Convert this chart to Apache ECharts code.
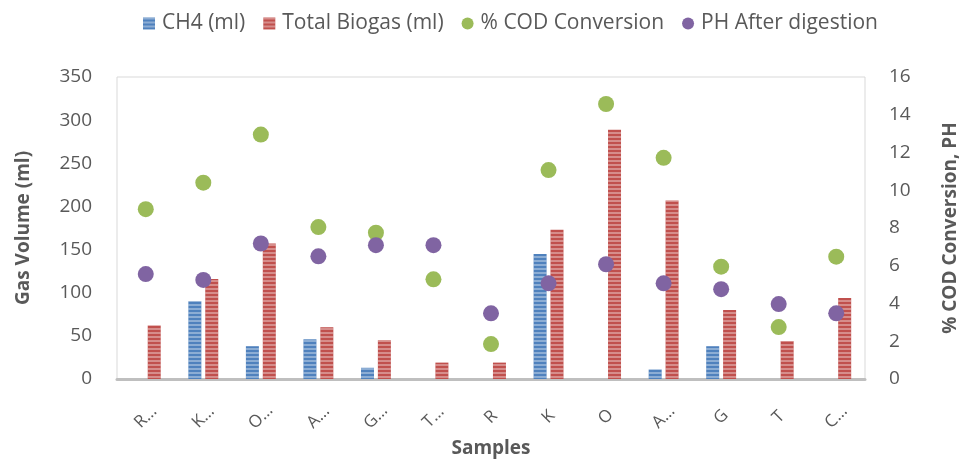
<!DOCTYPE html>
<html>
<head>
<meta charset="utf-8">
<script src="https://cdn.jsdelivr.net/npm/echarts@6/dist/echarts.min.js"></script>
<style>html,body{margin:0;padding:0;background:#fff;}#c{width:960px;height:459px;}</style>
</head>
<body>
<div id="c"></div>
<script>
var categories = ["R…","K…","O…","A…","G…","T…","R","K","O","A…","G","T","C…"];
var ch4 = [0, 90, 38, 46, 13, 0, 0, 145, 0, 11, 38, 0, 0];
var biogas = [62, 116, 157, 60, 45, 19, 19, 173, 289, 207, 80, 44, 94];
var cod = [9.0, 10.4, 12.95, 8.05, 7.75, 5.28, 1.85, 11.07, 14.57, 11.72, 5.95, 2.75, 6.48];
var ph = [5.56, 5.25, 7.18, 6.5, 7.09, 7.09, 3.48, 5.07, 6.08, 5.07, 4.76, 3.97, 3.48];
var leftTicks = [0, 350, 50];
var rightTicks = [0, 16, 2];

var font = "'Open Sans', 'Liberation Sans', sans-serif";
var txt = '#595959';
var stripe = {symbol: 'rect', dashArrayX: [1, 0], dashArrayY: [2, 2], color: 'rgba(255,255,255,0.35)', rotation: 0, symbolSize: 1};

var chart = echarts.init(document.getElementById('c'), null, {renderer: 'canvas'});
chart.setOption({
  animation: false,
  textStyle: {fontFamily: font},
  legend: {
    top: 8, left: 138, itemWidth: 12, itemHeight: 12, itemGap: 18,
    textStyle: {color: txt, fontSize: 21, fontFamily: font, padding: [0, 0, 0, 2]},
    data: [
      {name: 'CH4 (ml)', icon: 'rect'},
      {name: 'Total Biogas (ml)', icon: 'rect'},
      {name: '% COD Conversion', icon: 'circle'},
      {name: 'PH After digestion', icon: 'circle'}
    ]
  },
  grid: {left: 117, right: 95, top: 77, bottom: 80, show: true, borderColor: '#d9d9d9', borderWidth: 1, containLabel: false, outerBoundsMode: 'none'},
  xAxis: {
    type: 'category', data: categories,
    name: 'Samples', nameLocation: 'middle', nameGap: 60,
    nameTextStyle: {color: txt, fontSize: 19, fontWeight: 'bold', fontFamily: font},
    axisLine: {show: true, lineStyle: {color: '#bfbfbf', width: 3}},
    axisTick: {show: false},
    axisLabel: {rotate: 45, color: txt, fontSize: 17, margin: 38, interval: 0, align: 'center', verticalAlign: 'middle', fontFamily: font},
    splitLine: {show: false}
  },
  yAxis: [{
    type: 'value', min: leftTicks[0], max: leftTicks[1], interval: leftTicks[2],
    name: 'Gas Volume (ml)', nameLocation: 'middle', nameGap: 84, nameRotate: 90,
    nameTextStyle: {color: txt, fontSize: 19, fontWeight: 'bold', fontFamily: font},
    axisLine: {show: false}, axisTick: {show: false}, splitLine: {show: false},
    axisLabel: {color: txt, fontSize: 19, margin: 25, fontFamily: font}
  }, {
    type: 'value', min: rightTicks[0], max: rightTicks[1], interval: rightTicks[2],
    name: '% COD Conversion, PH', nameLocation: 'middle', nameGap: 76, nameRotate: 90,
    nameTextStyle: {color: txt, fontSize: 19, fontWeight: 'bold', fontFamily: font},
    axisLine: {show: false}, axisTick: {show: false}, splitLine: {show: false},
    axisLabel: {color: txt, fontSize: 19, margin: 24, fontFamily: font}
  }],
  series: [
    {name: 'CH4 (ml)', type: 'bar', data: ch4, barWidth: 13, barGap: '30%',
     itemStyle: {color: '#4F81BD', decal: stripe}},
    {name: 'Total Biogas (ml)', type: 'bar', data: biogas, barWidth: 13, barGap: '30%',
     itemStyle: {color: '#C0504D', decal: stripe}},
    {name: '% COD Conversion', type: 'scatter', yAxisIndex: 1, data: cod, symbolSize: 16,
     itemStyle: {color: '#9BBB59', opacity: 1}},
    {name: 'PH After digestion', type: 'scatter', yAxisIndex: 1, data: ph, symbolSize: 16,
     itemStyle: {color: '#8064A2', opacity: 1}}
  ]
});
</script>
</body>
</html>
